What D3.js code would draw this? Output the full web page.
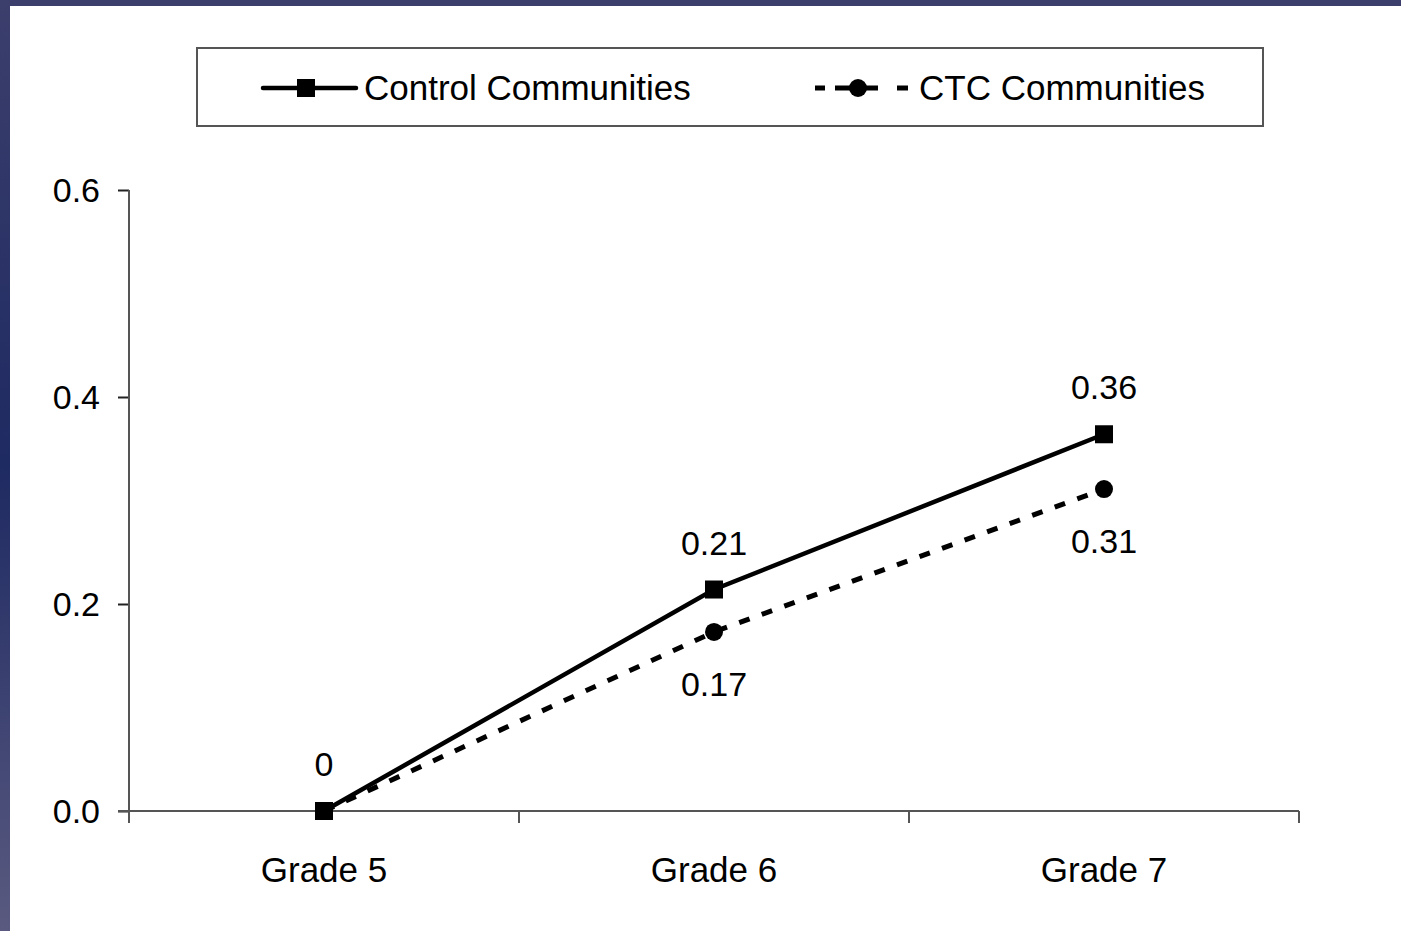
<!DOCTYPE html>
<html><head><meta charset="utf-8">
<script src="https://cdn.jsdelivr.net/npm/d3@7"></script>
<style>html,body{margin:0;padding:0;overflow:hidden;background:#fff}text{font-family:"Liberation Sans",Arial,sans-serif;fill:#000}</style>
</head><body>
<svg id="c" width="1401" height="931"></svg>
<script>
const categories = ["Grade 5", "Grade 6", "Grade 7"];
const controlValues = [0, 0.214, 0.364];
const ctcValues = [0, 0.173, 0.311];
const controlLabels = ["0", "0.21", "0.36"];
const ctcLabels = ["", "0.17", "0.31"];
const yTicks = [0, 0.2, 0.4, 0.6];
const seriesNames = ["Control Communities", "CTC Communities"];

const svg = d3.select("#c");
const defs = svg.append("defs");
const g1 = defs.append("linearGradient").attr("id","bg").attr("x1",0).attr("y1",0).attr("x2",0).attr("y2",1);
g1.append("stop").attr("offset","0%").attr("stop-color","#3c3f6c");
g1.append("stop").attr("offset","50%").attr("stop-color","#1e2a62");
g1.append("stop").attr("offset","100%").attr("stop-color","#5a5a80");
svg.append("rect").attr("width",1401).attr("height",931).attr("fill","url(#bg)");
svg.append("rect").attr("x",10).attr("y",6).attr("width",1391).attr("height",925).attr("fill","#fff");

const x = d3.scaleBand().domain(categories).range([129, 1299]).padding(0);
const y = d3.scaleLinear().domain([0, 0.6]).range([811, 190]);
const cx = d => x(d) + x.bandwidth()/2;

// y axis
const yAxis = svg.append("g").attr("transform","translate(129,0)")
  .call(d3.axisLeft(y).tickValues(yTicks).tickSize(11).tickPadding(18).tickFormat(d3.format(".1f")));
yAxis.select(".domain").remove();
yAxis.selectAll(".tick line").attr("stroke","#222").attr("stroke-width",2);
yAxis.selectAll("text").style("font-size","34px").attr("dy","0.35em");
svg.append("line").attr("x1",129).attr("x2",129).attr("y1",y(0.6)).attr("y2",823).attr("stroke","#555").attr("stroke-width",2);

// x axis
svg.append("line").attr("x1",118).attr("x2",1299).attr("y1",y(0)).attr("y2",y(0)).attr("stroke","#555").attr("stroke-width",2);
const xTickPos = categories.map(c => x(c)).concat([x(categories[categories.length-1]) + x.bandwidth()]);
svg.selectAll(".xt").data(xTickPos).enter().append("line")
  .attr("x1",d=>d).attr("x2",d=>d).attr("y1",y(0)).attr("y2",823).attr("stroke","#555").attr("stroke-width",2);
svg.selectAll(".xl").data(categories).enter().append("text")
  .attr("x",d=>cx(d)).attr("y",882).attr("text-anchor","middle").style("font-size","35px").text(d=>d);

const line = d3.line().x((d,i)=>cx(categories[i])).y(d=>y(d));

// CTC dashed
svg.append("path").attr("d", line(ctcValues)).attr("fill","none").attr("stroke","#000")
  .attr("stroke-width",5).attr("stroke-dasharray","11,13");
// Control solid
svg.append("path").attr("d", line(controlValues)).attr("fill","none").attr("stroke","#000").attr("stroke-width",4.5);

svg.selectAll(".cm").data(ctcValues).enter().append("circle")
  .attr("cx",(d,i)=>cx(categories[i])).attr("cy",d=>y(d)).attr("r",9).attr("fill","#000");
svg.selectAll(".sm").data(controlValues).enter().append("rect")
  .attr("x",(d,i)=>cx(categories[i])-9).attr("y",d=>y(d)-9).attr("width",18).attr("height",18).attr("fill","#000");

svg.selectAll(".lc").data(controlValues).enter().append("text")
  .attr("x",(d,i)=>cx(categories[i])).attr("y",d=>y(d)-35).attr("text-anchor","middle")
  .style("font-size","34px").text((d,i)=>controlLabels[i]);
svg.selectAll(".lt").data(ctcValues).enter().append("text")
  .attr("x",(d,i)=>cx(categories[i])).attr("y",d=>y(d)+64).attr("text-anchor","middle")
  .style("font-size","34px").text((d,i)=>ctcLabels[i]);

// legend
svg.append("rect").attr("x",197).attr("y",48).attr("width",1066).attr("height",78)
  .attr("fill","#fff").attr("stroke","#555").attr("stroke-width",2);
svg.append("line").attr("x1",263).attr("x2",356).attr("y1",88).attr("y2",88).attr("stroke","#000").attr("stroke-width",4.5).attr("stroke-linecap","round");
svg.append("rect").attr("x",297).attr("y",79).attr("width",18).attr("height",18).attr("fill","#000");
svg.append("text").attr("x",364).attr("y",100).style("font-size","35px").text(seriesNames[0]);
svg.append("line").attr("x1",815).attr("x2",909).attr("y1",88).attr("y2",88).attr("stroke","#000").attr("stroke-width",5).attr("stroke-dasharray","10,10,43,19,11,100");
svg.append("circle").attr("cx",858).attr("cy",88).attr("r",9).attr("fill","#000");
svg.append("text").attr("x",919).attr("y",100).style("font-size","35px").text(seriesNames[1]);
</script>
</body></html>
